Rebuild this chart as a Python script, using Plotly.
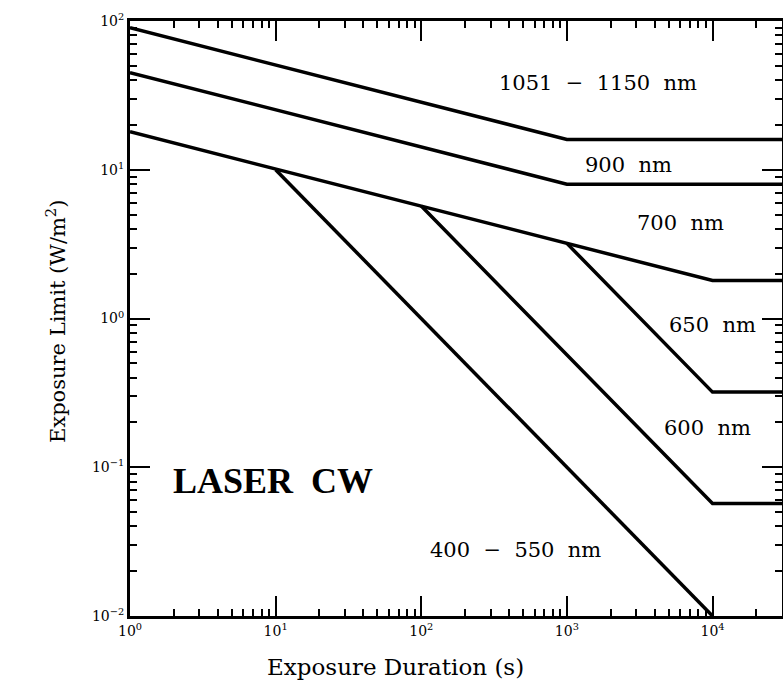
import plotly.graph_objects as go

# Series data: exposure duration (s) vs exposure limit (W/m^2)
t_1051 = [1, 1000, 30000]
e_1051 = [90, 16, 16]
t_900 = [1, 1000, 30000]
e_900 = [45, 8, 8]
t_700 = [1, 10000, 30000]
e_700 = [18, 1.8, 1.8]
t_650 = [1000, 10000, 30000]
e_650 = [3.2, 0.32, 0.32]
t_600 = [100, 10000, 30000]
e_600 = [5.7, 0.057, 0.057]
t_400 = [10, 10000]
e_400 = [10, 0.01]

series = [
    ("1051 − 1150 nm", t_1051, e_1051),
    ("900 nm", t_900, e_900),
    ("700 nm", t_700, e_700),
    ("650 nm", t_650, e_650),
    ("600 nm", t_600, e_600),
    ("400 − 550 nm", t_400, e_400),
]

x_tick_vals = [1, 10, 100, 1000, 10000]
x_tick_text = ["10<sup>0</sup>", "10<sup>1</sup>", "10<sup>2</sup>", "10<sup>3</sup>", "10<sup>4</sup>"]
y_tick_vals = [0.01, 0.1, 1, 10, 100]
y_tick_text = ["10<sup>−2</sup>", "10<sup>−1</sup>", "10<sup>0</sup>", "10<sup>1</sup>", "10<sup>2</sup>"]
x_minor_vals = [m * d for d in [1, 10, 100, 1000, 10000] for m in range(2, 10)]
y_minor_vals = [m * d for d in [0.01, 0.1, 1, 10] for m in range(2, 10)]

labels = [
    ("1051  −  1150  nm", 3.214, 1.583),
    ("900  nm", 3.42, 1.032),
    ("700  nm", 3.777, 0.642),
    ("650  nm", 3.997, -0.044),
    ("600  nm", 3.963, -0.736),
    ("400  −  550  nm", 2.644, -1.556),
]

SERIF = "DejaVu Serif"

px_l, px_r, px_t, px_b = 130, 782, 21, 616
def px2paper_x(px):
    return (px - px_l) / (px_r - px_l)
def px2paper_y(py):
    return (px_b - py) / (px_b - px_t)

fig = go.Figure()
for name, t, e in series:
    fig.add_trace(go.Scatter(x=t, y=e, mode="lines", name=name,
                             line=dict(color="black", width=3.5),
                             showlegend=False))

for text, lx, ly in labels:
    fig.add_annotation(x=lx, y=ly, xref="x", yref="y", text=text,
                       showarrow=False, font=dict(family=SERIF, size=21, color="black"))

fig.add_annotation(x=0.982, y=-1.09, xref="x", yref="y", text="<b>LASER  CW</b>",
                   showarrow=False,
                   font=dict(family="Liberation Serif", size=36, color="black"))

fig.add_annotation(x=px2paper_x(40), y=px2paper_y(322), xref="paper", yref="paper",
                   text="Exposure Limit (W/m<sup>2</sup>)", textangle=-90, showarrow=False,
                   font=dict(family=SERIF, size=21, color="black"))
fig.add_annotation(x=px2paper_x(395), y=px2paper_y(682), xref="paper", yref="paper",
                   text="Exposure Duration (s)", showarrow=False,
                   font=dict(family=SERIF, size=23, color="black"))

axis_common = dict(
    type="log",
    showline=True, linecolor="black", linewidth=3,
    mirror="ticks",
    ticks="inside", ticklen=20, tickwidth=2, tickcolor="black",
    showgrid=False, zeroline=False, automargin=False,
    tickfont=dict(family=SERIF, size=14, color="black"),
)

fig.update_xaxes(range=[0, 4.4771], tickmode="array", tickvals=x_tick_vals,
                 ticktext=x_tick_text,
                 minor=dict(ticks="inside", ticklen=7, tickwidth=1.5, tickcolor="black",
                            tickmode="array", tickvals=x_minor_vals, showgrid=False),
                 **axis_common)
fig.update_yaxes(range=[-2, 2], tickmode="array", tickvals=y_tick_vals,
                 ticktext=y_tick_text,
                 minor=dict(ticks="inside", ticklen=7, tickwidth=1.5, tickcolor="black",
                            tickmode="array", tickvals=y_minor_vals, showgrid=False),
                 **axis_common)

fig.update_layout(
    width=783, height=698,
    margin=dict(l=130, r=1, t=21, b=82),
    plot_bgcolor="white", paper_bgcolor="white",
)

fig.write_html("out.html", config={"displayModeBar": False},
               post_script="document.body.style.margin='0';")
